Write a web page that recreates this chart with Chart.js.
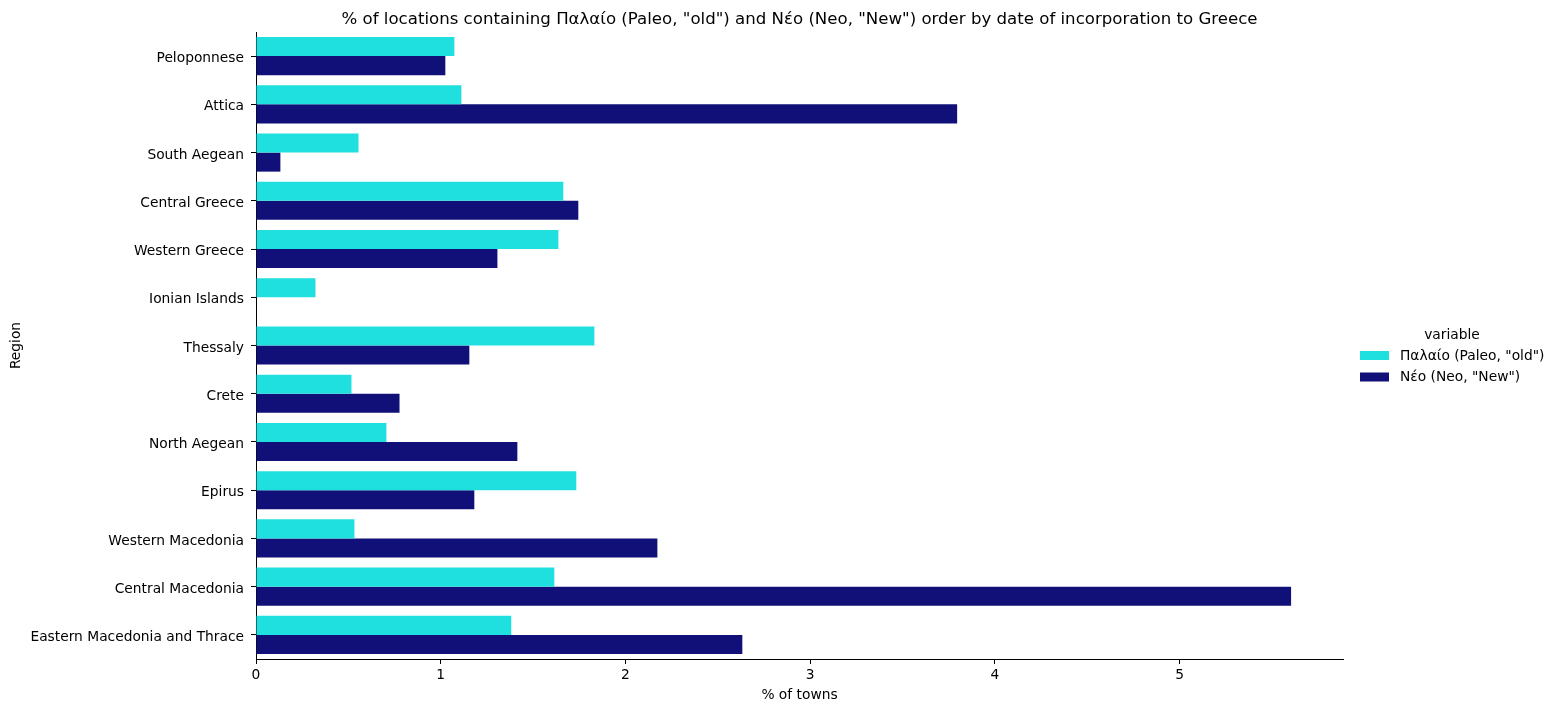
<!DOCTYPE html>
<html><head><meta charset="utf-8">
<script src="https://cdn.jsdelivr.net/npm/chart.js@4/dist/chart.umd.min.js"></script>
<style>html,body{margin:0;padding:0;background:#fff}#wrap{width:1557px;height:712px;position:relative}</style>
</head><body><div id="wrap"><canvas id="c" width="1557" height="712"></canvas></div>
<script>
const regions = ["Peloponnese","Attica","South Aegean","Central Greece","Western Greece","Ionian Islands","Thessaly","Crete","North Aegean","Epirus","Western Macedonia","Central Macedonia","Eastern Macedonia and Thrace"];
const paleoValues = [1.074,1.112,0.555,1.664,1.637,0.322,1.832,0.517,0.706,1.734,0.533,1.615,1.382];
const neoValues = [1.025,3.796,0.132,1.745,1.307,0,1.155,0.777,1.415,1.182,2.173,5.604,2.633];
const xTicks = [0,1,2,3,4,5];
const seriesNames = ['Παλαίο (Paleo, "old")','Νέο (Neo, "New")'];
const colors = ['#20DFDF','#101078'];
const FONT = "'DejaVu Sans', sans-serif";
const FS = 13.8;

const overlay = {
  id:'overlay',
  afterDraw(chart){
    const ctx = chart.ctx, a = chart.chartArea;
    ctx.save();
    ctx.fillStyle = '#000';
    ctx.font = "16.6px " + FONT;
    ctx.textAlign = 'center'; ctx.textBaseline = 'middle';
    ctx.fillText('% of locations containing Παλαίο (Paleo, "old") and Νέο (Neo, "New") order by date of incorporation to Greece', (a.left + a.right)/2, 19.5);
    // legend
    ctx.font = FS + "px " + FONT;
    ctx.fillText('variable', 1452, 335);
    ctx.textAlign = 'left';
    for (let i = 0; i < seriesNames.length; i++) {
      const y = 355.5 + i*21.5;
      ctx.fillStyle = colors[i];
      ctx.fillRect(1360, y-4.5, 29, 9);
      ctx.fillStyle = '#000';
      ctx.fillText(seriesNames[i], 1400, y + 0.5);
    }
    ctx.restore();
  }
};

new Chart(document.getElementById('c'), {
  type:'bar',
  data:{
    labels: regions,
    datasets:[
      {label: seriesNames[0], data: paleoValues, backgroundColor: colors[0], categoryPercentage:0.79, barPercentage:1.0},
      {label: seriesNames[1], data: neoValues, backgroundColor: colors[1], categoryPercentage:0.79, barPercentage:1.0}
    ]
  },
  options:{
    indexAxis:'y',
    responsive:false,
    animation:false,
    layout:{padding:{left:0, right:214, top:32, bottom:0}},
    plugins:{legend:{display:false}, title:{display:false}, tooltip:{enabled:false}},
    scales:{
      x:{
        type:'linear', min:0, max:5.885,
        afterBuildTicks(s){ s.ticks = xTicks.map(v=>({value:v})); },
        afterFit(s){ s.height = 53; },
        grid:{display:true, drawOnChartArea:false, drawTicks:true, tickLength:5, color:'#000', lineWidth:1},
        border:{display:true, color:'#000', width:1},
        ticks:{color:'#000', font:{family:FONT, size:FS}, padding:3, maxRotation:0},
        title:{display:true, text:'% of towns', color:'#000', font:{family:FONT, size:FS}, padding:{top:4, bottom:8}}
      },
      y:{
        afterFit(s){ s.width = 256; },
        grid:{display:true, offset:false, drawOnChartArea:false, drawTicks:true, tickLength:5, color:'#000', lineWidth:1},
        border:{display:true, color:'#000', width:1},
        ticks:{color:'#000', font:{family:FONT, size:FS}, padding:7, autoSkip:false, labelOffset:2.5},
        title:{display:true, text:'Region', color:'#000', font:{family:FONT, size:FS}, padding:{top:8, bottom:0}}
      }
    }
  },
  plugins:[overlay]
});
</script></body></html>
